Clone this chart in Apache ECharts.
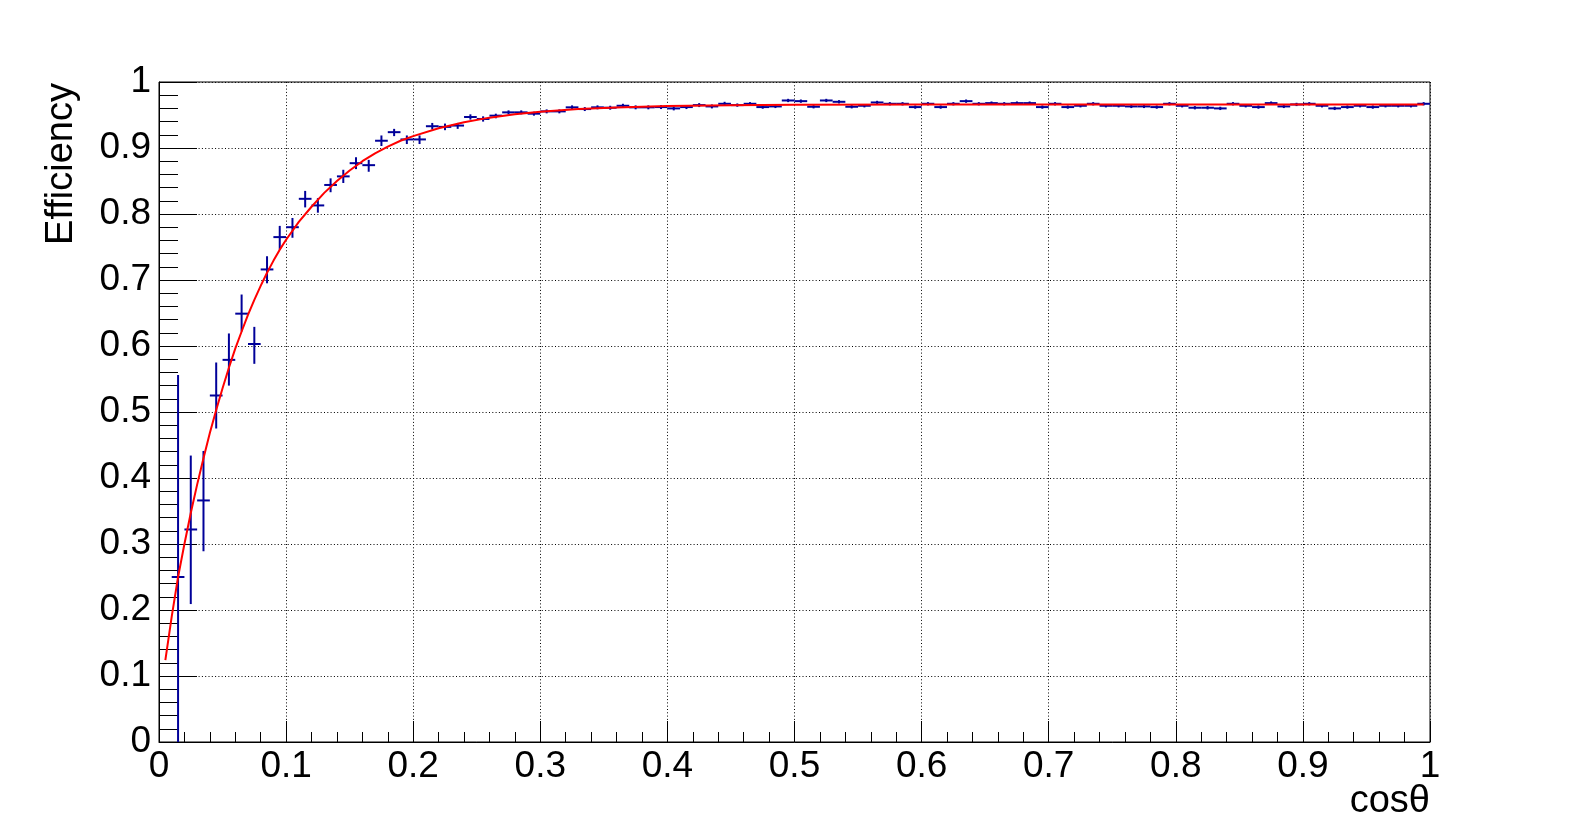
<!DOCTYPE html>
<html>
<head>
<meta charset="utf-8">
<script src="https://cdn.jsdelivr.net/npm/echarts@6/dist/echarts.min.js"></script>
<style>
  html, body { margin: 0; padding: 0; background: #fff; }
  #chart { width: 1589px; height: 825px; }
</style>
</head>
<body>
<div id="chart"></div>
<script>
// bin centres (bin width 0.01), first bin 0.005 is empty
const binWidth = 0.01;
const cosTheta = [
  0.015, 0.025, 0.035, 0.045, 0.055, 0.065, 0.075, 0.085, 0.095, 0.105,
  0.115, 0.125, 0.135, 0.145, 0.155, 0.165, 0.175, 0.185, 0.195, 0.205,
  0.215, 0.225, 0.235, 0.245, 0.255, 0.265, 0.275, 0.285, 0.295, 0.305,
  0.315, 0.325, 0.335, 0.345, 0.355, 0.365, 0.375, 0.385, 0.395, 0.405,
  0.415, 0.425, 0.435, 0.445, 0.455, 0.465, 0.475, 0.485, 0.495, 0.505,
  0.515, 0.525, 0.535, 0.545, 0.555, 0.565, 0.575, 0.585, 0.595, 0.605,
  0.615, 0.625, 0.635, 0.645, 0.655, 0.665, 0.675, 0.685, 0.695, 0.705,
  0.715, 0.725, 0.735, 0.745, 0.755, 0.765, 0.775, 0.785, 0.795, 0.805,
  0.815, 0.825, 0.835, 0.845, 0.855, 0.865, 0.875, 0.885, 0.895, 0.905,
  0.915, 0.925, 0.935, 0.945, 0.955, 0.965, 0.975, 0.985, 0.995
];
const efficiency = [
  0.250, 0.322, 0.366, 0.525, 0.579, 0.649, 0.603, 0.716, 0.765, 0.780,
  0.823, 0.813, 0.844, 0.857, 0.877, 0.874, 0.911, 0.924, 0.913, 0.913,
  0.933, 0.932, 0.934, 0.947, 0.944, 0.949, 0.954, 0.954, 0.952, 0.9555,
  0.9555, 0.9616, 0.959, 0.9616, 0.961, 0.964, 0.9616, 0.9616, 0.962, 0.960,
  0.962, 0.965, 0.963, 0.967, 0.965, 0.967, 0.962, 0.963, 0.972, 0.971,
  0.9625, 0.972, 0.970, 0.9625, 0.964, 0.969, 0.967, 0.967, 0.962, 0.967,
  0.962, 0.967, 0.971, 0.967, 0.968, 0.967, 0.968, 0.968, 0.962, 0.967,
  0.962, 0.964, 0.967, 0.964, 0.964, 0.963, 0.963, 0.962, 0.967, 0.964,
  0.961, 0.961, 0.960, 0.967, 0.964, 0.962, 0.968, 0.963, 0.966, 0.967,
  0.964, 0.960, 0.962, 0.964, 0.962, 0.964, 0.964, 0.964, 0.967
];
const errLow = [
  0.250, 0.113, 0.077, 0.050, 0.039, 0.027, 0.030, 0.021, 0.019, 0.016,
  0.013, 0.011, 0.011, 0.010, 0.009, 0.010, 0.008, 0.006, 0.007, 0.007,
  0.005, 0.005, 0.005, 0.004, 0.004, 0.004, 0.003, 0.003, 0.003, 0.003,
  0.003, 0.003, 0.003, 0.003, 0.003, 0.003, 0.003, 0.003, 0.003, 0.003,
  0.003, 0.003, 0.003, 0.003, 0.0025, 0.0025, 0.0025, 0.0025, 0.0025, 0.0025,
  0.0025, 0.0025, 0.0025, 0.0025, 0.0025, 0.0025, 0.0025, 0.0025, 0.0025, 0.0025,
  0.0025, 0.0025, 0.0025, 0.0025, 0.0025, 0.0025, 0.0025, 0.0025, 0.0025, 0.0025,
  0.0025, 0.0025, 0.0025, 0.0025, 0.0025, 0.0025, 0.0025, 0.0025, 0.0025, 0.0025,
  0.0025, 0.0025, 0.0025, 0.0025, 0.0025, 0.0025, 0.0025, 0.0025, 0.0025, 0.0025,
  0.0025, 0.0025, 0.0025, 0.0025, 0.0025, 0.0025, 0.0025, 0.0025, 0.0025
];
const errHigh = [
  0.306, 0.112, 0.075, 0.050, 0.040, 0.029, 0.026, 0.020, 0.017, 0.014,
  0.012, 0.011, 0.010, 0.010, 0.009, 0.008, 0.008, 0.005, 0.006, 0.006,
  0.005, 0.005, 0.004, 0.004, 0.004, 0.003, 0.003, 0.003, 0.003, 0.003,
  0.003, 0.003, 0.003, 0.003, 0.003, 0.003, 0.003, 0.003, 0.003, 0.003,
  0.003, 0.003, 0.003, 0.003, 0.0025, 0.0025, 0.0025, 0.0025, 0.0025, 0.0025,
  0.0025, 0.0025, 0.0025, 0.0025, 0.0025, 0.0025, 0.0025, 0.0025, 0.0025, 0.0025,
  0.0025, 0.0025, 0.0025, 0.0025, 0.0025, 0.0025, 0.0025, 0.0025, 0.0025, 0.0025,
  0.0025, 0.0025, 0.0025, 0.0025, 0.0025, 0.0025, 0.0025, 0.0025, 0.0025, 0.0025,
  0.0025, 0.0025, 0.0025, 0.0025, 0.0025, 0.0025, 0.0025, 0.0025, 0.0025, 0.0025,
  0.0025, 0.0025, 0.0025, 0.0025, 0.0025, 0.0025, 0.0025, 0.0025, 0.0025
];
// fit curve
const fitX = [
  0.005, 0.010, 0.015, 0.020, 0.025, 0.030, 0.035, 0.040, 0.045, 0.050,
  0.055, 0.060, 0.065, 0.070, 0.075, 0.080, 0.085, 0.090, 0.095, 0.100,
  0.110, 0.120, 0.130, 0.140, 0.150, 0.160, 0.170, 0.180, 0.190, 0.200,
  0.220, 0.240, 0.260, 0.280, 0.300, 0.330, 0.360, 0.400, 0.450, 0.500,
  0.600, 0.800, 0.995
];
const fitY = [
  0.124, 0.190, 0.250, 0.300, 0.347, 0.390, 0.430, 0.468, 0.503, 0.536,
  0.567, 0.596, 0.622, 0.647, 0.670, 0.691, 0.711, 0.729, 0.746, 0.761,
  0.788, 0.811, 0.832, 0.850, 0.866, 0.880, 0.892, 0.902, 0.911, 0.918,
  0.930, 0.939, 0.946, 0.951, 0.955, 0.959, 0.9614, 0.9635, 0.9648, 0.9654,
  0.9659, 0.966, 0.966
];

const font = "'Liberation Sans', Arial, Helvetica, sans-serif";
const pointColor = "#000099";

const points = cosTheta.map((x, i) => [x, efficiency[i], errLow[i], errHigh[i]]);
const fitLine = fitX.map((x, i) => [x, fitY[i]]);

const dotted = { color: "#000", width: 1, type: [1, 2.3] };

const myChart = echarts.init(document.getElementById("chart"));
myChart.setOption({
  animation: false,
  backgroundColor: "#fff",
  grid: {
    left: 159,
    right: 159,
    top: 82,
    bottom: 83,
    show: true,
    borderColor: "#000",
    borderWidth: 1,
  },
  xAxis: {
    type: "value",
    min: 0,
    max: 1,
    interval: 0.1,
    axisLine: { show: true, onZero: false, lineStyle: { color: "#000", width: 1 } },
    axisTick: { show: true, inside: true, length: 21, lineStyle: { color: "#000" } },
    minorTick: { show: true, splitNumber: 5, length: 10, lineStyle: { color: "#000" } },
    splitLine: { show: true, lineStyle: dotted },
    axisLabel: {
      color: "#000",
      fontFamily: font,
      fontSize: 37,
      margin: 25,
      verticalAlign: "middle",
    },
  },
  yAxis: {
    type: "value",
    min: 0,
    max: 1,
    interval: 0.1,
    axisLine: { show: true, lineStyle: { color: "#000", width: 1 } },
    axisTick: { show: true, inside: true, length: 38, lineStyle: { color: "#000" } },
    minorTick: { show: true, splitNumber: 5, length: 19, lineStyle: { color: "#000" } },
    splitLine: { show: true, lineStyle: dotted },
    axisLabel: {
      color: "#000",
      fontFamily: font,
      fontSize: 37,
      margin: 8,
    },
  },
  graphic: [
    {
      type: "text",
      x: 1430,
      y: 802,
      style: {
        text: "cosθ",
        font: "38px " + font,
        fill: "#000",
        align: "right",
        verticalAlign: "middle",
      },
    },
    {
      type: "text",
      x: 62,
      y: 83,
      rotation: Math.PI / 2,
      style: {
        text: "Efficiency",
        font: "38px " + font,
        fill: "#000",
        align: "right",
        verticalAlign: "middle",
      },
    },
  ],
  series: [
    {
      type: "custom",
      z: 2,
      data: points,
      renderItem(params, api) {
        const x = api.value(0);
        const y = api.value(1);
        const left = api.coord([x - binWidth / 2, y]);
        const right = api.coord([x + binWidth / 2, y]);
        const lo = api.coord([x, y - api.value(2)]);
        const hi = api.coord([x, y + api.value(3)]);
        const style = { stroke: pointColor, lineWidth: 2 };
        return {
          type: "group",
          children: [
            { type: "line", shape: { x1: left[0], y1: left[1], x2: right[0], y2: right[1] }, style },
            { type: "line", shape: { x1: lo[0], y1: lo[1], x2: hi[0], y2: hi[1] }, style },
          ],
        };
      },
    },
    {
      type: "line",
      z: 3,
      data: fitLine,
      smooth: false,
      showSymbol: false,
      lineStyle: { color: "#ff0000", width: 2, join: "round" },
    },
  ],
});
</script>
</body>
</html>
